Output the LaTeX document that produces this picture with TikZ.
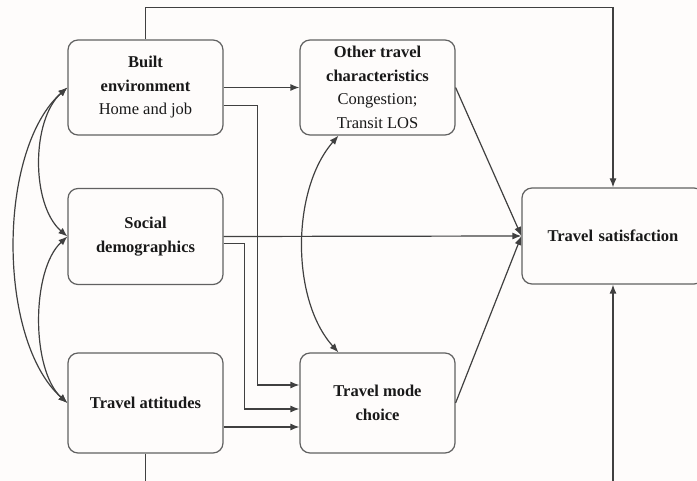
\documentclass[tikz,border=0pt]{standalone}
\usepackage{fontspec}
\setmainfont{Liberation Serif}
\usetikzlibrary{arrows.meta,calc}

\tikzset{
  box/.style={draw=black!62, line width=1.2pt, rounded corners=10pt,
    minimum width=155pt, align=center, text=black!90,
    font=\fontsize{16.5}{23.5}\selectfont, inner sep=0pt},
  link/.style={draw=black!75, line width=1.2pt,
    -{Latex[length=9pt,width=7pt]}},
  twoway/.style={draw=black!75, line width=1.2pt,
    {Latex[length=9pt,width=7pt]}-{Latex[length=9pt,width=7pt]}},
}

\begin{document}
\begin{tikzpicture}[x=1pt,y=-1pt]
  \fill[white!98!brown] (0,0) rectangle (697,481);
  \clip (0,0) rectangle (697,481);

  % factor boxes
  \node[box, minimum height=95pt]  (built) at (145.5,87.5) {\textbf{Built}\\\textbf{environment}\\Home and job};
  \node[box, minimum height=96pt]  (soc)   at (145.5,236.5) {\textbf{Social}\\\textbf{demographics}};
  \node[box, minimum height=100pt] (att)   at (145.5,403) {\textbf{Travel attitudes}};
  \node[box, minimum height=95pt]  (other) at (377.5,87.5) {\textbf{Other travel}\\\textbf{characteristics}\\Congestion;\\Transit LOS};
  \node[box, minimum height=96pt, minimum width=182pt, text width=170pt] (sat) at (613,236) {\textbf{Travel satisfaction}};
  \node[box, minimum height=100pt] (mode)  at (377.5,403) {\textbf{Travel mode}\\\textbf{choice}};

  % direct effects on satisfaction (over the top and under the bottom)
  \draw[link] (built.north) -- ++(0,-32) -| (sat.north);
  \draw[link] (att.south) -- ++(0,60) -| (sat.south);

  % effects on other travel characteristics and mode choice
  \draw[link] (built.east) -- (other.west);
  \draw[link] ([yshift=-18pt]built.east) -| ([xshift=-42pt,yshift=18pt]mode.west) -- ([yshift=18pt]mode.west);
  \draw[link] ([yshift=-7pt]soc.east) -| ([xshift=-55pt,yshift=-6pt]mode.west) -- ([yshift=-6pt]mode.west);
  \draw[link] ([yshift=-24pt]att.east) -- ([yshift=-24pt]mode.west);

  % effects converging on satisfaction
  \draw[link] (soc.east) -- (sat.west);
  \draw[link] (other.east) -- (sat.west);
  \draw[link] (mode.east) -- (sat.west);

  % correlations
  \draw[twoway] ([xshift=-39pt]other.south) .. controls (291,190) and (291,300) .. ([xshift=-39pt]mode.north);
  \draw[twoway] (built.west) .. controls (31,120) and (31,205) .. (soc.west);
  \draw[twoway] (soc.west) .. controls (31,270) and (31,370) .. (att.west);
  \draw[twoway] (built.west) .. controls (-3,150) and (-3,340) .. (att.west);
\end{tikzpicture}
\end{document}
